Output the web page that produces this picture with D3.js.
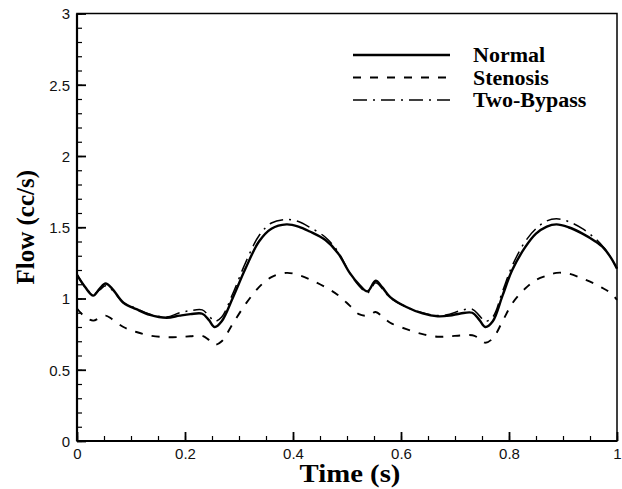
<!DOCTYPE html>
<html>
<head>
<meta charset="utf-8">
<script src="https://cdn.jsdelivr.net/npm/d3@7"></script>
<style>
  body { margin: 0; background: #fff; }
  svg { display: block; }
</style>
</head>
<body>
<div id="root"></div>
<script>
// data
const time = [0, 0.015, 0.03, 0.042, 0.053, 0.065, 0.086, 0.11, 0.135, 0.166,
	0.19, 0.21, 0.232, 0.244, 0.255, 0.268, 0.288, 0.312, 0.337, 0.36,
	0.388, 0.41, 0.431, 0.46, 0.483, 0.505, 0.522, 0.538, 0.553, 0.565,
	0.58, 0.61, 0.64, 0.668, 0.69, 0.71, 0.732, 0.745, 0.756, 0.77,
	0.788, 0.806, 0.83, 0.85, 0.87, 0.888, 0.91, 0.936, 0.96, 0.975, 0.988, 1.0];

const normal = [1.165, 1.08, 1.02, 1.07, 1.105, 1.07, 0.97, 0.925, 0.885, 0.865,
	0.88, 0.89, 0.893, 0.85, 0.80, 0.84, 1.00, 1.21, 1.40, 1.49,
	1.52, 1.505, 1.47, 1.41, 1.32, 1.18, 1.10, 1.05, 1.125, 1.08,
	1.01, 0.94, 0.895, 0.875, 0.88, 0.895, 0.90, 0.85, 0.80, 0.84,
	1.02, 1.20, 1.36, 1.455, 1.505, 1.52, 1.50, 1.455, 1.40, 1.355, 1.29, 1.21];

const stenosis = [0.93, 0.87, 0.845, 0.865, 0.88, 0.855, 0.80, 0.765, 0.74, 0.728,
	0.73, 0.735, 0.738, 0.71, 0.675, 0.70, 0.82, 0.96, 1.08, 1.15,
	1.18, 1.165, 1.135, 1.08, 1.025, 0.95, 0.89, 0.88, 0.905, 0.875,
	0.83, 0.785, 0.75, 0.732, 0.735, 0.74, 0.742, 0.72, 0.69, 0.72,
	0.84, 0.965, 1.07, 1.13, 1.16, 1.18, 1.175, 1.14, 1.10, 1.07, 1.04, 0.99];

const twoBypass = [1.17, 1.08, 1.03, 1.06, 1.09, 1.06, 0.97, 0.93, 0.89, 0.87,
	0.90, 0.915, 0.92, 0.88, 0.84, 0.87, 1.03, 1.25, 1.44, 1.53,
	1.555, 1.54, 1.50, 1.43, 1.33, 1.18, 1.09, 1.04, 1.11, 1.07,
	1.005, 0.94, 0.90, 0.88, 0.89, 0.915, 0.925, 0.88, 0.84, 0.87,
	1.05, 1.23, 1.40, 1.49, 1.545, 1.56, 1.54, 1.49, 1.42, 1.36, 1.29, 1.21];

const seriesNames = ["Normal", "Stenosis", "Two-Bypass"];
const xTicks = [0, 0.2, 0.4, 0.6, 0.8, 1];
const yTicks = [0, 0.5, 1, 1.5, 2, 2.5, 3];

const width = 622, height = 489;
const plotLeft = 77, plotRight = 617, plotTop = 13.5, plotBottom = 441;
const serif = "'Liberation Serif', 'Times New Roman', serif";
const sans = "'Liberation Sans', Arial, sans-serif";

const svg = d3.select("#root").append("svg")
	.attr("width", width)
	.attr("height", height);

const x = d3.scaleLinear().domain([0, 1]).range([plotLeft, plotRight]);
const y = d3.scaleLinear().domain([0, 3]).range([plotBottom, plotTop]);

// frame (top and right, no ticks)
svg.append("rect")
	.attr("x", plotLeft).attr("y", plotTop)
	.attr("width", plotRight - plotLeft).attr("height", plotBottom - plotTop)
	.attr("fill", "none").attr("stroke", "#000").attr("stroke-width", 1.5);

// minor ticks, drawn inward
const xMinor = d3.range(0, 1.0001, 0.05);
const yMinor = d3.range(0, 3.0001, 0.1);

svg.append("g")
	.attr("transform", `translate(0,${plotBottom})`)
	.call(d3.axisTop(x).tickValues(xMinor).tickSize(5).tickFormat(""))
	.call(g => g.select(".domain").remove())
	.selectAll("line").attr("stroke-width", 1.2);

svg.append("g")
	.attr("transform", `translate(${plotLeft},0)`)
	.call(d3.axisRight(y).tickValues(yMinor).tickSize(5).tickFormat(""))
	.call(g => g.select(".domain").remove())
	.selectAll("line").attr("stroke-width", 1.2);

// major ticks with labels
const xAxis = svg.append("g")
	.attr("transform", `translate(0,${plotBottom})`)
	.call(d3.axisTop(x).tickValues(xTicks).tickSize(9).tickFormat(d3.format("")));
xAxis.select(".domain").remove();
xAxis.selectAll("line").attr("stroke-width", 1.8);
xAxis.selectAll("text")
	.attr("y", 17.5).attr("dy", 0)
	.attr("fill", "#111")
	.style("font-family", sans)
	.style("font-size", "15px");

const yAxis = svg.append("g")
	.attr("transform", `translate(${plotLeft},0)`)
	.call(d3.axisRight(y).tickValues(yTicks).tickSize(9).tickFormat(d3.format("")));
yAxis.select(".domain").remove();
yAxis.selectAll("line").attr("stroke-width", 1.8);
yAxis.selectAll("text")
	.attr("x", -7).attr("dy", "0.35em")
	.attr("text-anchor", "end")
	.attr("fill", "#111")
	.style("font-family", sans)
	.style("font-size", "15px");

// heavier left and bottom axis lines
svg.append("line")
	.attr("x1", plotLeft).attr("x2", plotLeft).attr("y1", plotTop).attr("y2", plotBottom)
	.attr("stroke", "#000").attr("stroke-width", 2.2);
svg.append("line")
	.attr("x1", plotLeft).attr("x2", plotRight).attr("y1", plotBottom).attr("y2", plotBottom)
	.attr("stroke", "#000").attr("stroke-width", 2.2);

// curves
const styles = {
	"Normal": { width: 2.4, dash: null },
	"Stenosis": { width: 1.9, dash: "8,9" },
	"Two-Bypass": { width: 1.5, dash: "14,6,2,6" }
};
const values = { "Normal": normal, "Stenosis": stenosis, "Two-Bypass": twoBypass };

const line = d3.line()
	.x(d => x(d[0]))
	.y(d => y(d[1]))
	.curve(d3.curveCatmullRom.alpha(0.5));

seriesNames.forEach(name => {
	svg.append("path")
		.datum(time.map((t, i) => [t, values[name][i]]))
		.attr("d", line)
		.attr("fill", "none")
		.attr("stroke", "#000")
		.attr("stroke-width", styles[name].width)
		.attr("stroke-dasharray", styles[name].dash);
});

// legend
const legend = svg.append("g");
seriesNames.forEach((name, i) => {
	const ly = 55 + i * 22.5;
	legend.append("line")
		.attr("x1", 353).attr("x2", 450)
		.attr("y1", ly).attr("y2", ly)
		.attr("stroke", "#000")
		.attr("stroke-width", styles[name].width)
		.attr("stroke-dasharray", styles[name].dash);
	legend.append("text")
		.attr("transform", `translate(473,${ly + 7}) scale(1.1,1)`)
		.text(name)
		.style("font-family", serif)
		.style("font-weight", "bold")
		.style("font-size", "20px");
});

// axis titles
svg.append("text")
	.attr("transform", `translate(${(plotLeft + plotRight) / 2 + 3},482) scale(1.15,1)`)
	.attr("text-anchor", "middle")
	.text("Time (s)")
	.style("font-family", serif)
	.style("font-weight", "bold")
	.style("font-size", "25px");

svg.append("text")
	.attr("transform", `translate(34,${(plotTop + plotBottom) / 2}) rotate(-90)`)
	.attr("text-anchor", "middle")
	.text("Flow (cc/s)")
	.style("font-family", serif)
	.style("font-weight", "bold")
	.style("font-size", "25px");
</script>
</body>
</html>
